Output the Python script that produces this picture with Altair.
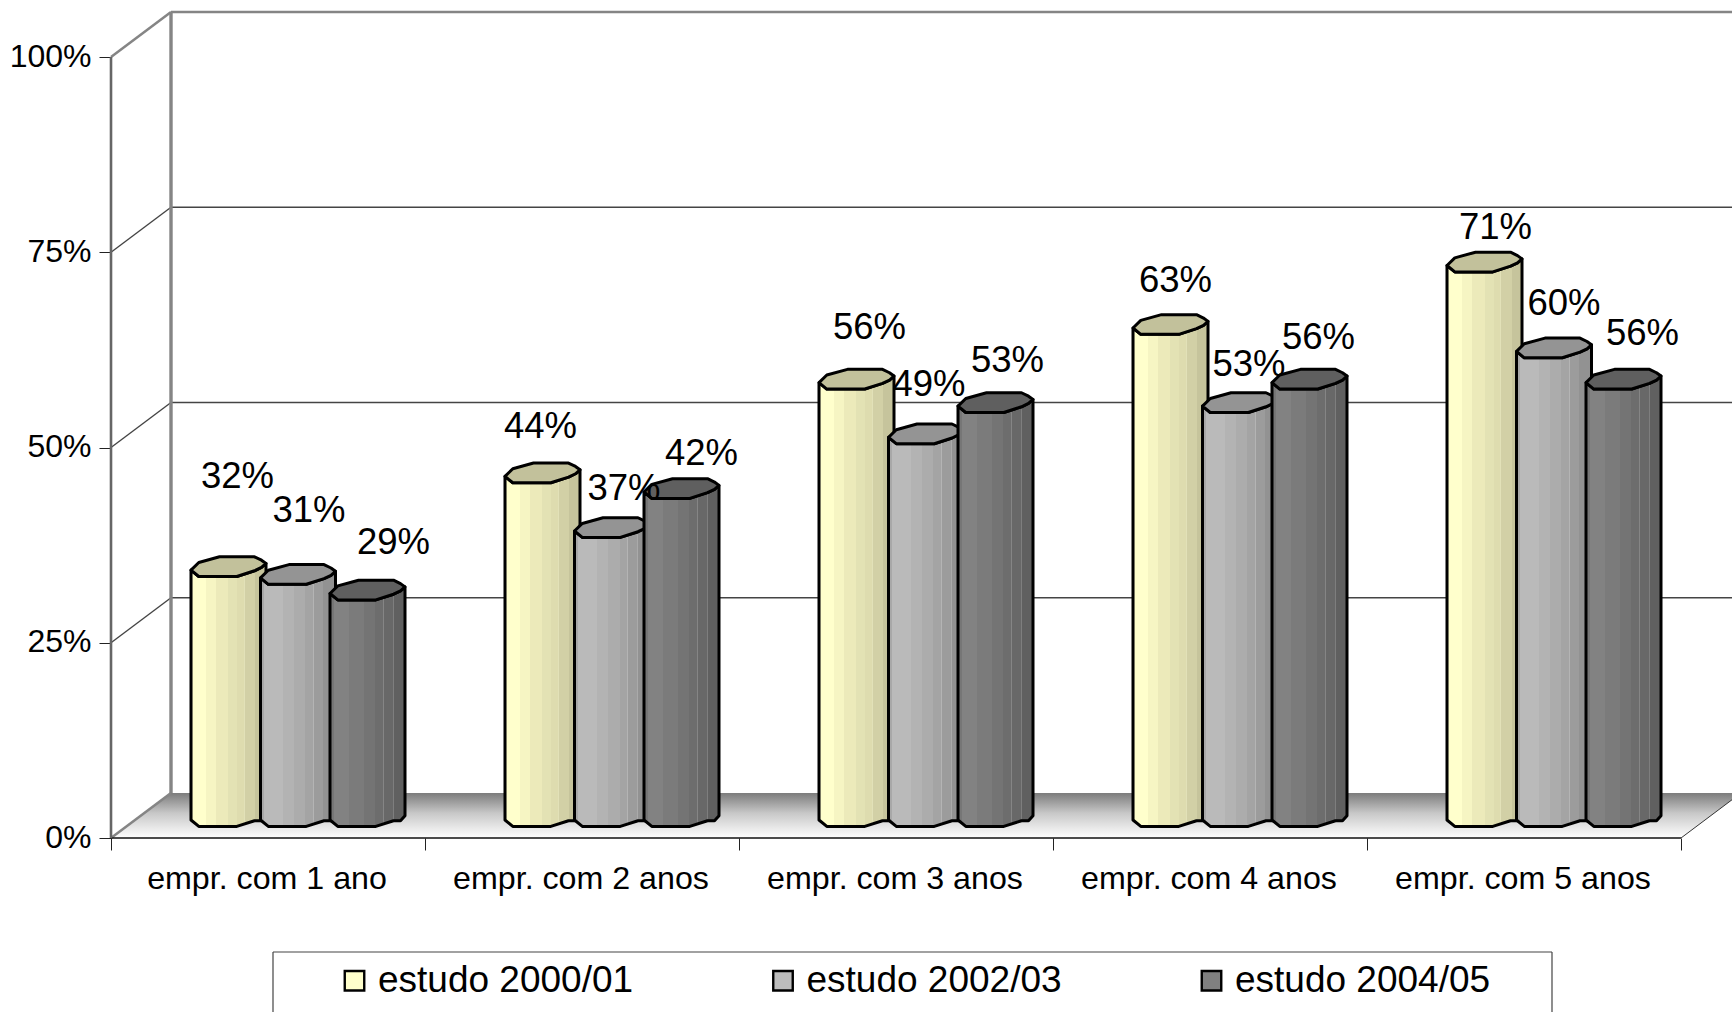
import altair as alt
import pandas as pd

# Chart values
categories = ["empr. com 1 ano", "empr. com 2 anos", "empr. com 3 anos", "empr. com 4 anos", "empr. com 5 anos"]
series_names = ["estudo 2000/01", "estudo 2002/03", "estudo 2004/05"]
estudo_2000 = [32, 44, 56, 63, 71]
estudo_2002 = [31, 37, 49, 53, 60]
estudo_2004 = [29, 42, 53, 56, 56]
percent_ticks = [0, 25, 50, 75, 100]
series_values = [estudo_2000, estudo_2002, estudo_2004]

# Hand placed data labels: pixel shift from the centre of each column's top
label_dx = [[9, -2, 13, 5, 11], [11, 12, 3, 9, 10], [26, 20, 12, 9, 19]]
label_dy = [[-90, -46, -51, -44, -34], [-64, -39, -49, -38, -44], [-47, -35, -42, -41, -45]]
# (series, category) of labels that sit behind the neighbouring column
labels_behind = [(1, 3)]

# Layout: one category is 314 px wide, one percentage point is 7.81 px tall
PX_X = 314.0
PX_Y = 7.81
LEFT = 111
W, H = 1732 - LEFT, 1012
ZERO_Y = 838
DEPTH_X = 60 / PX_X
DEPTH_Y = 45 / PX_Y
n = len(categories)


def ux(px):
    return px / PX_X


def uy(px):
    return px / PX_Y


x_scale = alt.Scale(domain=[0, W / PX_X], range=[0, W], nice=False, zero=False)
y_scale = alt.Scale(domain=[(ZERO_Y - H) / PX_Y, ZERO_Y / PX_Y], range=[H, 0], nice=False, zero=False)

# Both axes are declared once and shared by every layer
X = alt.X(
    "x:Q",
    scale=x_scale,
    axis=alt.Axis(values=list(range(n + 1)), labels=False, domain=False, grid=False, title=None, ticks=True,
                  tickSize=12, tickColor="#222222", tickWidth=1, offset=ZERO_Y - H, orient="bottom"),
)
Y = alt.Y(
    "y:Q",
    scale=y_scale,
    axis=alt.Axis(values=percent_ticks, labelExpr="datum.value + '%'", domain=False, grid=False, title=None,
                  tickSize=12, tickColor="#222222", tickWidth=1, labelPadding=8, labelFontSize=32, labelOffset=-1,
                  labelFont="Liberation Sans", labelColor="black", orient="left"),
)

# Outline of the column's cross-section, pixels around its centre
shape_x = [-37.5, -29.7, -9.0, 8.3, 26.0, 33.0, 37.5]
shape_up = [3.3, -4.3, -10.0, -10.0, -10.0, -6.6, -3.3]
shape_lo = [3.3, 9.7, 9.7, 9.7, 4.0, 0.7, -3.3]
shape_base = [3.3, 9.7, 9.7, 9.7, 4.0, 4.0, -1.0]
COL_STEP = 69.5
COL_MID_Y = DEPTH_Y / 2 - uy(1.2)


def rows_for(s):
    body, cap = [], []
    for c, v in enumerate(series_values[s]):
        cx = c + 0.5 + DEPTH_X / 2 + ux((s - 1) * COL_STEP)
        for px, up, lo, bs in zip(shape_x, shape_up, shape_lo, shape_base):
            top = v + COL_MID_Y
            cap.append({"c": c, "x": cx + ux(px), "y": top - uy(up), "y2": top - uy(lo)})
            body.append({"c": c, "x": cx + ux(px), "y": top - uy(lo), "y2": COL_MID_Y - uy(bs)})
    return pd.DataFrame(body), pd.DataFrame(cap)


def stepped(bands):
    stops, start = [], 0.0
    for end, col in bands:
        stops.append(alt.GradientStop(color=col, offset=start))
        stops.append(alt.GradientStop(color=col, offset=end))
        start = end
    return alt.LinearGradient(gradient="linear", stops=stops, x1=0, x2=1, y1=0, y2=0)


body_bands = [
    [(.03, "#F4F3C4"), (.2, "#FFFFCC"), (.33, "#F6F5C3"), (.5, "#ECEABA"), (.62, "#E3E2B4"), (.71, "#DEDCAF"),
     (.72, "#E2E1B8"), (.86, "#D2D0A6"), (1, "#C6C49C")],
    [(.05, "#A8A8A8"), (.3, "#BABABA"), (.45, "#B3B3B3"), (.6, "#ACACAC"), (.7, "#A4A4A4"), (.71, "#B4B4B4"),
     (.83, "#9C9C9C"), (.84, "#AAAAAA"), (1, "#929292")],
    [(.05, "#767676"), (.25, "#828282"), (.45, "#7B7B7B"), (.6, "#747474"), (.71, "#6D6D6D"), (.72, "#858585"),
     (.84, "#686868"), (.85, "#7E7E7E"), (1, "#606060")],
]
cap_colors = ["#C2C19B", "#949494", "#5F5F5F"]
legend_colors = ["#FFFFCC", "#BDBDBD", "#808080"]

# Floor of the plot box
floor_df = pd.DataFrame(
    [
        {"x": 0, "y": 0, "y2": 0},
        {"x": DEPTH_X, "y": DEPTH_Y, "y2": 0},
        {"x": n, "y": DEPTH_Y, "y2": 0},
        {"x": n + DEPTH_X, "y": DEPTH_Y, "y2": DEPTH_Y},
    ]
)
floor = (
    alt.Chart(floor_df)
    .mark_area(
        orient="vertical",
        color=alt.LinearGradient(
            gradient="linear",
            stops=[
                alt.GradientStop(color="#7C7C7C", offset=0),
                alt.GradientStop(color="#C8C8C8", offset=0.45),
                alt.GradientStop(color="#FFFFFF", offset=1),
            ],
            x1=0, x2=0, y1=0, y2=1,
        ),
    )
    .encode(x=X, y=Y, y2="y2:Q")
)


def seg(rows, color, width):
    df = pd.DataFrame(rows, columns=["x", "y", "x2", "y2"])
    return alt.Chart(df).mark_rule(color=color, strokeWidth=width).encode(x=X, y=Y, x2="x2:Q", y2="y2:Q")


# Gridlines on the back and side walls
grid_rows = []
for t in percent_ticks[1:-1]:
    grid_rows.append((DEPTH_X, t + DEPTH_Y, n + DEPTH_X, t + DEPTH_Y))
    grid_rows.append((0, t, DEPTH_X, t + DEPTH_Y))
grid = seg(grid_rows, "#444444", 1.4)

# Frame of the plot box
back_edge = seg([(DEPTH_X, DEPTH_Y, DEPTH_X, 100 + DEPTH_Y)], "#858585", 3.4)
top_edges = seg(
    [(DEPTH_X, 100 + DEPTH_Y, n + DEPTH_X, 100 + DEPTH_Y), (0, 100, DEPTH_X, 100 + DEPTH_Y), (0, 0, DEPTH_X, DEPTH_Y)],
    "#858585", 2.6,
)
front_edge = seg([(0, 0, 0, 100)], "#666666", 2.6)
right_edge = seg([(n, 0, n + DEPTH_X, DEPTH_Y)], "#333333", 1)
base_line = seg([(0, 0, n, 0)], "#111111", 1.4)

cat_df = pd.DataFrame({"x": [i + 0.5 - ux(1.0) for i in range(n)], "y": [uy(ZERO_Y - 879)] * n, "t": categories})
cat_labels = (
    alt.Chart(cat_df)
    .mark_text(font="Liberation Sans", fontSize=32.2, color="black", align="center", baseline="middle")
    .encode(x=X, y=Y, text="t:N")
)

# Columns, then their caps, one series after the other
stack = []
label_rows = []
for s in range(3):
    body_df, cap_df = rows_for(s)
    stack.append(
        alt.Chart(body_df)
        .mark_area(orient="vertical", color=stepped(body_bands[s]), stroke="black", strokeWidth=3, strokeJoin="round")
        .encode(x=X, y=Y, y2="y2:Q", detail="c:N")
    )
    stack.append(
        alt.Chart(cap_df)
        .mark_area(orient="vertical", color=cap_colors[s], stroke="black", strokeWidth=3, strokeJoin="round")
        .encode(x=X, y=Y, y2="y2:Q", detail="c:N")
    )
    for c, v in enumerate(series_values[s]):
        label_rows.append(
            {
                "s": s,
                "c": c,
                "x": c + 0.5 + DEPTH_X / 2 + ux((s - 1) * COL_STEP + label_dx[s][c]),
                "y": v + COL_MID_Y - uy(label_dy[s][c]),
                "t": f"{v}%",
                "behind": (s, c) in labels_behind,
            }
        )

label_df = pd.DataFrame(label_rows)
value_text = dict(font="Liberation Sans", fontSize=36.5, color="black", align="center", baseline="middle")
labels_back = alt.Chart(label_df[label_df.behind]).mark_text(**value_text).encode(x=X, y=Y, text="t:N")
labels_front = alt.Chart(label_df[~label_df.behind]).mark_text(**value_text).encode(x=X, y=Y, text="t:N")

# Legend frame, running off the bottom of the page
box_x0, box_x1 = (273 - LEFT) / PX_X, (1552 - LEFT) / PX_X
box_y0, box_y1 = (ZERO_Y - 952) / PX_Y, (ZERO_Y - 1030) / PX_Y
legend_box = seg(
    [(box_x0, box_y0, box_x1, box_y0), (box_x0, box_y0, box_x0, box_y1), (box_x1, box_y0, box_x1, box_y1)],
    "#444444", 1.2,
)

legend_df = pd.DataFrame({"x": [0, 0, 0], "y": [0, 0, 0], "serie": series_names})
legend_layer = (
    alt.Chart(legend_df)
    .mark_square(opacity=0)
    .encode(
        x=X,
        y=Y,
        color=alt.Color(
            "serie:N",
            scale=alt.Scale(domain=series_names, range=legend_colors),
            legend=alt.Legend(
                title=None,
                orient="none",
                legendX=336 - LEFT,
                legendY=962,
                direction="horizontal",
                columns=3,
                columnPadding=130.5,
                symbolType="square",
                symbolSize=380,
                symbolOpacity=1,
                symbolStrokeColor="black",
                symbolStrokeWidth=2.4,
                labelFont="Liberation Sans",
                labelFontSize=37,
                labelColor="black",
                labelOffset=5,
                labelLimit=400,
                padding=0,
            ),
        ),
    )
)

layers = [floor, grid, back_edge, top_edges, right_edge, base_line, front_edge, cat_labels, labels_back]
chart = (
    alt.layer(*layers, *stack, labels_front, legend_box, legend_layer)
    .resolve_scale(x="shared", y="shared")
    .properties(
        width=W,
        height=H,
        padding={"left": LEFT, "top": 0, "right": 0, "bottom": 0},
        autosize=alt.AutoSizeParams(type="none"),
        background="white",
    )
    .configure_view(stroke=None)
)

chart.save("out.html", embed_options={"renderer": "svg", "actions": False})
